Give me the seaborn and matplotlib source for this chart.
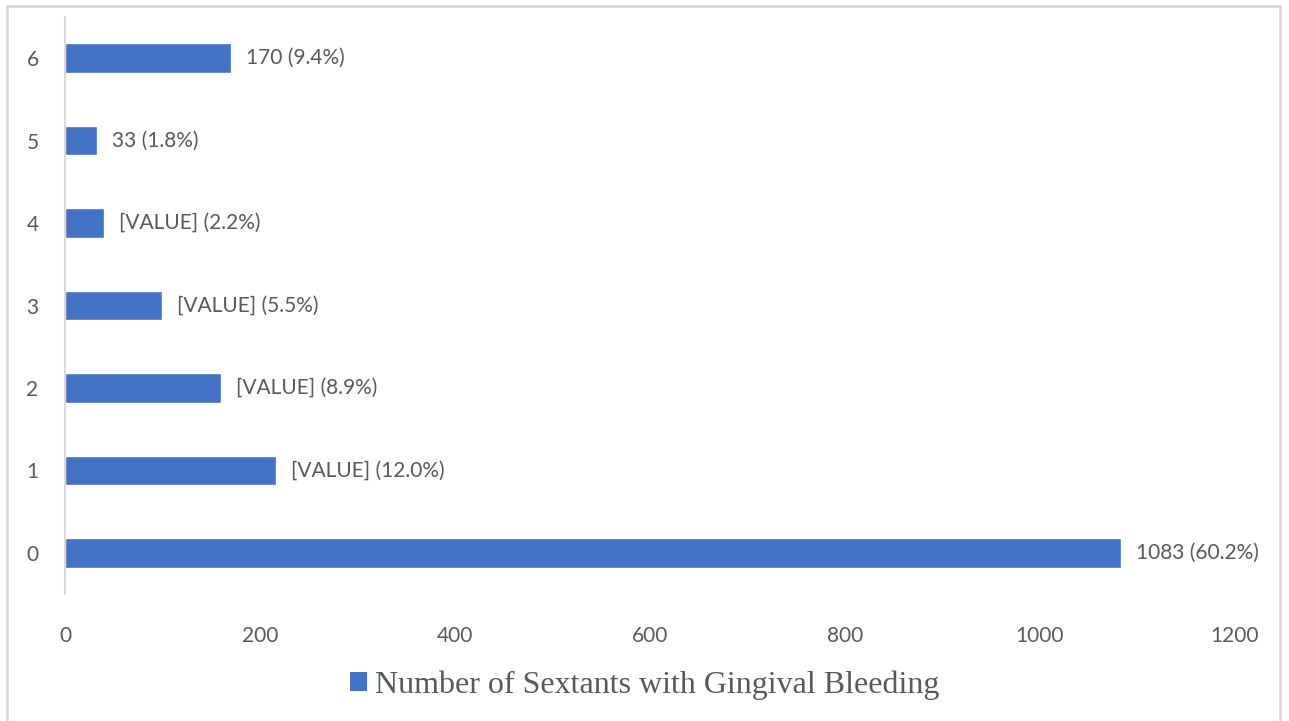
import matplotlib
matplotlib.use("Agg")
import matplotlib.pyplot as plt
from matplotlib.patches import Patch, Rectangle
import seaborn as sns
import pandas as pd

# Number of sextants with gingival bleeding (0-6) and participant counts
categories = ["6", "5", "4", "3", "2", "1", "0"]
counts = [170, 33, 40, 99, 160, 216, 1083]
count_text = ["170", "33", "[VALUE]", "[VALUE]", "[VALUE]", "[VALUE]", "1083"]
percents = ["9.4%", "1.8%", "2.2%", "5.5%", "8.9%", "12.0%", "60.2%"]
x_ticks = [0, 200, 400, 600, 800, 1000, 1200]
series_name = "Number of Sextants with Gingival Bleeding"

BAR = "#4472C4"
TEXT = "#595959"
LINE = "#D9D9D9"

sns.set_theme(style="white")
plt.rcParams["font.family"] = ["Lato", "DejaVu Sans"]

df = pd.DataFrame({"sextants": categories, "count": counts})

fig = plt.figure(figsize=(12.89, 7.21), dpi=100)
ax = fig.add_axes([65 / 1289, 127 / 721, 1170 / 1289, 577 / 721])

sns.barplot(data=df, x="count", y="sextants", order=categories,
            orient="h", color=BAR, saturation=1, width=0.36, ax=ax)

ax.set_xlim(0, 1200)
ax.set_ylim(6.5, -0.5)
ax.set_xticks(x_ticks)
ax.set_xticklabels([str(t) for t in x_ticks])
ax.set_xlabel("")
ax.set_ylabel("")
ax.tick_params(axis="x", length=0, pad=23, labelsize=15, labelcolor=TEXT)
ax.tick_params(axis="y", length=0, pad=19, labelsize=15, labelcolor=TEXT)
ax.grid(False)
for side in ["top", "right", "bottom"]:
    ax.spines[side].set_visible(False)
ax.spines["left"].set_color(LINE)
ax.spines["left"].set_linewidth(1.5)

labels = [f"{c} ({p})" for c, p in zip(count_text, percents)]
ax.bar_label(ax.containers[0], labels=labels, padding=11,
             fontsize=15, color=TEXT)

# Chart-area border
fig.patches.append(Rectangle((7 / 1289, -0.05), 1273 / 1289, 1.05 - 6 / 721,
                             transform=fig.transFigure, fill=False,
                             edgecolor=LINE, linewidth=2))

handle = Patch(facecolor=BAR, edgecolor="none")
fig.legend(handles=[handle], labels=[series_name], loc="center",
           bbox_to_anchor=(0.5, 36 / 721), frameon=False,
           prop={"family": "Liberation Serif", "size": 23},
           labelcolor=TEXT, handlelength=0.52, handleheight=0.52,
           handletextpad=0.25)

fig.savefig("out.png", dpi=100)
